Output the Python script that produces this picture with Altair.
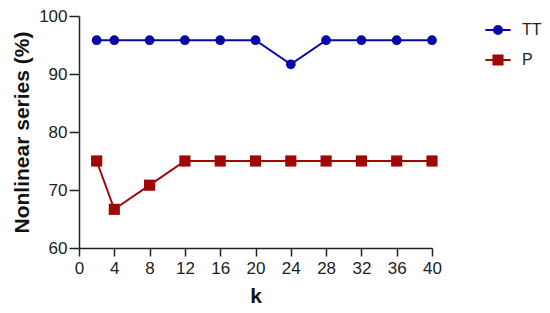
import altair as alt
import pandas as pd

k = [2, 4, 8, 12, 16, 20, 24, 28, 32, 36, 40]
tt = [95.83, 95.83, 95.83, 95.83, 95.83, 95.83, 91.67, 95.83, 95.83, 95.83, 95.83]
p = [75.0, 66.67, 70.83, 75.0, 75.0, 75.0, 75.0, 75.0, 75.0, 75.0, 75.0]
series = ["TT", "P"]
colors = ["#0808a8", "#a00808"]
x_ticks = list(range(0, 41, 4))
y_ticks = [60, 70, 80, 90, 100]

rows = []
for name, vals in zip(series, [tt, p]):
    for kk, v in zip(k, vals):
        rows.append({"k": kk, "value": v, "series": name})
df = pd.DataFrame(rows)

FONT = "Liberation Sans"

x = alt.X("k:Q", title="k", scale=alt.Scale(domain=[0, 40], nice=False, zero=False),
          axis=alt.Axis(values=x_ticks, labelFlush=False))
y = alt.Y("value:Q", title="Nonlinear series (%)",
          scale=alt.Scale(domain=[60, 100], nice=False, zero=False),
          axis=alt.Axis(values=y_ticks))

tt_path = "M-1,0H1M0.32,0A0.32,0.32,0,1,1,-0.32,0A0.32,0.32,0,1,1,0.32,0Z"
p_path = "M-1,0H1M-0.36,-0.36H0.36V0.36H-0.36Z"

legend = alt.Legend(
    title=None, orient="none", legendX=405, legendY=0,
    symbolSize=640, labelFontSize=16, labelFont=FONT, labelColor="#222",
    labelOffset=10, rowPadding=7, padding=0, symbolStrokeWidth=2, symbolOpacity=1,
)

legend_layer = alt.Chart(df).mark_point(
    filled=True, opacity=0, strokeWidth=2
).encode(
    x=x, y=y,
    color=alt.Color("series:N", scale=alt.Scale(domain=series, range=colors), legend=legend),
    stroke=alt.Stroke("series:N", scale=alt.Scale(domain=series, range=colors), legend=legend),
    shape=alt.Shape("series:N", scale=alt.Scale(domain=series, range=[tt_path, p_path]), legend=legend),
)

layers = [legend_layer]
for name, col, shp, sz in zip(series, colors, ["circle", "square"], [95, 125]):
    base = alt.Chart(df).transform_filter(alt.datum.series == name)
    layers.append(base.mark_line(strokeWidth=2, color=col).encode(x=x, y=y))
    layers.append(base.mark_point(filled=True, opacity=1, shape=shp, size=sz, color=col).encode(x=x, y=y))

chart = alt.layer(*layers).properties(
    width=353, height=232,
    autosize=alt.AutoSizeParams(type="none"),
    padding={"left": 71, "top": 8, "right": 110, "bottom": 57},
).configure_view(stroke=None).configure_axis(
    grid=False, domainColor="#222", domainWidth=1.5, tickColor="#222", tickWidth=1.5,
    labelFont=FONT, labelFontSize=17, labelColor="#222",
    titleFont=FONT, titleFontSize=21, titleFontWeight="bold", titleColor="#111",
).configure_axisX(tickSize=8, labelPadding=4, titlePadding=9).configure_axisY(
    tickSize=10, labelPadding=2, titlePadding=6)

chart.save("out.html", embed_options={"renderer": "svg", "actions": False})
